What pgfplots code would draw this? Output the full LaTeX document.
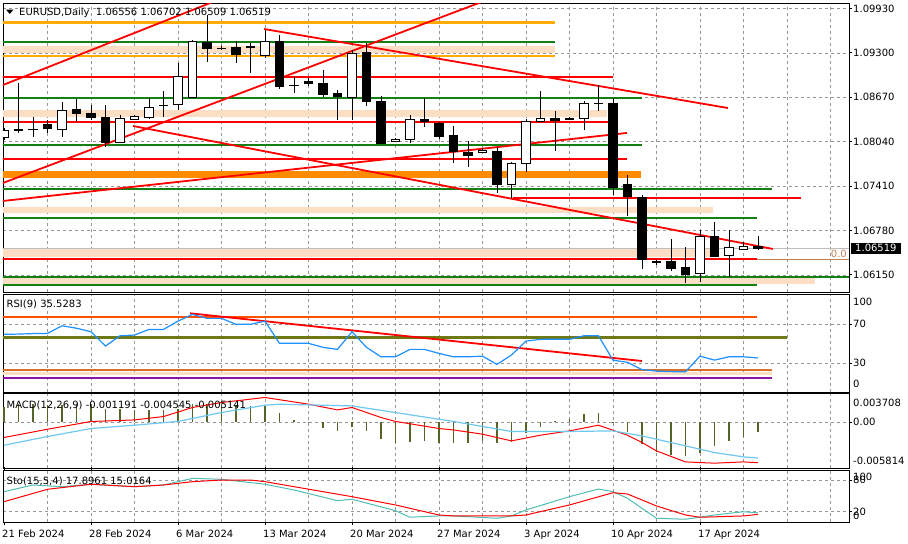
\documentclass[border=0pt]{standalone}
\usepackage{pgfplots}
\pgfplotsset{compat=1.18}
\usepackage{pgfplotstable}
\usepackage{fontspec}
\setmainfont{DejaVu Sans}

\definecolor{mtred}{RGB}{255,0,0}
\definecolor{mtgreen}{RGB}{20,128,20}
\definecolor{mtorange}{RGB}{255,170,0}
\definecolor{mtdarkorange}{RGB}{255,140,0}
\definecolor{mtpeach}{RGB}{252,222,196}
\definecolor{mtgrid}{RGB}{150,150,150}
\definecolor{mtprice}{RGB}{190,190,190}
\definecolor{mtbrown}{RGB}{190,130,90}
\definecolor{rsiblue}{RGB}{30,144,255}
\definecolor{rsiorange}{RGB}{255,80,0}
\definecolor{rsiolive}{RGB}{110,120,20}
\definecolor{rsichoc}{RGB}{215,110,40}
\definecolor{rsipurple}{RGB}{140,20,160}
\definecolor{macdhist}{RGB}{85,100,40}
\definecolor{macdcyan}{RGB}{110,200,240}
\definecolor{stocyan}{RGB}{80,190,180}

\newcommand{\mtfont}{\fontsize{10bp}{12bp}\selectfont}

% daily candles: bar index, open, high, low, close
\pgfplotstableread{
i o h l c
0 1.08107 1.08235 1.08064 1.08206
1 1.08220 1.08873 1.08164 1.08206
2 1.08220 1.08391 1.08107 1.08213
3 1.08291 1.08348 1.08164 1.08235
4 1.08220 1.08604 1.08107 1.08490
5 1.08504 1.08646 1.08320 1.08448
6 1.08448 1.08561 1.08348 1.08391
7 1.08391 1.08561 1.07965 1.08036
8 1.08036 1.08419 1.08022 1.08377
9 1.08362 1.08419 1.08348 1.08405
10 1.08391 1.08660 1.08362 1.08533
11 1.08561 1.08760 1.08391 1.08554
12 1.08575 1.09157 1.08490 1.08973
13 1.08675 1.09483 1.08660 1.09469
14 1.09455 1.09838 1.09171 1.09370
15 1.09370 1.09398 1.09341 1.09363
16 1.09384 1.09469 1.09157 1.09285
17 1.09391 1.09441 1.09015 1.09384
18 1.09271 1.09625 1.09228 1.09469
19 1.09469 1.09554 1.08788 1.08831
20 1.08845 1.08958 1.08731 1.08838
21 1.08902 1.08944 1.08831 1.08873
22 1.08873 1.09058 1.08675 1.08717
23 1.08731 1.08774 1.08348 1.08689
24 1.08675 1.09341 1.08348 1.09299
25 1.09313 1.09441 1.08547 1.08618
26 1.08618 1.08689 1.08008 1.08022
27 1.08050 1.08093 1.08036 1.08079
28 1.08079 1.08419 1.08022 1.08362
29 1.08362 1.08660 1.08249 1.08334
30 1.08306 1.08320 1.08079 1.08121
31 1.08135 1.08263 1.07738 1.07908
32 1.07894 1.08050 1.07681 1.07852
33 1.07894 1.07951 1.07880 1.07923
34 1.07908 1.07965 1.07312 1.07440
35 1.07440 1.07752 1.07241 1.07738
36 1.07738 1.08362 1.07610 1.08334
37 1.08334 1.08760 1.08320 1.08377
38 1.08377 1.08476 1.07908 1.08348
39 1.08377 1.08391 1.08348 1.08362
40 1.08377 1.08618 1.08206 1.08589
41 1.08589 1.08845 1.08476 1.08582
42 1.08589 1.08660 1.07284 1.07398
43 1.07440 1.07568 1.06986 1.07270
44 1.07256 1.07284 1.06234 1.06376
45 1.06347 1.06362 1.06291 1.06333
46 1.06347 1.06659 1.06206 1.06248
47 1.06262 1.06546 1.06035 1.06163
48 1.06177 1.06787 1.06049 1.06701
49 1.06701 1.06901 1.06404 1.06418
50 1.06433 1.06787 1.06120 1.06546
51 1.06518 1.06617 1.06511 1.06560
52 1.06556 1.06702 1.06509 1.06519
}\candles

\pgfplotstableread{
i v
0 59.7
1 60.0
2 60.5
3 60.7
4 68.5
5 66.0
6 62.4
7 47.7
8 58.3
9 59.0
10 64.8
11 64.8
12 73.3
13 80.2
14 76.1
15 76.1
16 70.0
17 70.0
18 73.3
19 50.5
20 50.5
21 50.5
22 46.4
23 44.3
24 62.4
25 46.4
26 36.7
27 36.7
28 44.3
29 44.3
30 40.2
31 36.7
32 36.7
33 37.4
34 28.9
35 38.5
36 52.8
37 54.6
38 54.6
39 54.6
40 58.3
41 58.3
42 33.3
43 31.0
44 23.6
45 22.0
46 21.5
47 21.3
48 37.4
49 33.3
50 36.7
51 36.7
52 35.5
}\rsi

\pgfplotstableread{
i v
0 0.00199
1 0.00228
2 0.00228
3 0.00216
4 0.00216
5 0.00216
6 0.00228
7 0.00174
8 0.00174
9 0.00157
10 0.00157
11 0.00157
12 0.00174
13 0.00228
14 0.00228
15 0.00228
16 0.00216
17 0.00207
18 0.00216
19 0.00114
20 0.00030
21 0.00002
22 -0.00068
23 -0.00110
24 -0.00055
25 -0.00110
26 -0.00207
27 -0.00267
28 -0.00250
29 -0.00237
30 -0.00267
31 -0.00258
32 -0.00258
33 -0.00237
34 -0.00267
35 -0.00250
36 -0.00131
37 -0.00055
38 0.00010
39 0.00038
40 0.00102
41 0.00123
42 -0.00005
43 -0.00123
44 -0.00279
45 -0.00377
46 -0.00410
47 -0.00427
48 -0.00385
49 -0.00300
50 -0.00237
51 -0.00182
52 -0.00119
}\macdhist

\pgfplotsset{
  mtpanel/.style={
    scale only axis, width=846bp, anchor=north west,
    xmin=-0.07, xmax=58.28,
    axis line style={black, line width=0.8bp},
    xtick={3,6,...,57}, xticklabels={},
    xtick style={draw=none},
    xmajorgrids, ymajorgrids,
    grid style={mtgrid, line width=0.6bp, dash pattern=on 3bp off 3bp},
    ytick pos=right, yticklabel pos=right,
    tick align=outside, major tick length=3bp,
    ytick style={black, line width=0.8bp},
    scaled y ticks=false,
    ticklabel style={font=\mtfont},
    yticklabel style={inner sep=0pt, anchor=west, xshift=1bp},
  },
  lvl/.style={line width=1.8bp, forget plot},
}

\begin{document}
\begin{tikzpicture}
\fill[white] (0,0) rectangle (908bp,-544bp);
\path[use as bounding box] (0,0) rectangle (908bp,-544bp);

% ---------------- price panel ----------------
\begin{axis}[mtpanel, at={(3bp,-3bp)}, height=289bp,
  ymin=1.05907, ymax=1.10008,
  ytick={1.0615,1.0678,1.0741,1.0804,1.0867,1.0930,1.0993},
  yticklabels={1.06150,1.06780,1.07410,1.08040,1.08670,1.09300,1.09930}]

% shaded zones
\addplot[fill=mtpeach, draw=none, forget plot] coordinates {(-1,1.09295) (38,1.09295) (38,1.09398) (-1,1.09398)} --cycle;
\addplot[fill=mtpeach, draw=none, forget plot] coordinates {(-1,1.08391) (41.6,1.08391) (41.6,1.08490) (-1,1.08490)} --cycle;
\addplot[fill=mtpeach, draw=none, forget plot] coordinates {(-1,1.07029) (48.9,1.07029) (48.9,1.07114) (-1,1.07114)} --cycle;
\addplot[fill=mtpeach, draw=none, forget plot] coordinates {(-1,1.06404) (49,1.06404) (49,1.06518) (-1,1.06518)} --cycle;
\addplot[fill=mtpeach, draw=none, forget plot] coordinates {(-1,1.06021) (55.9,1.06021) (55.9,1.06102) (-1,1.06102)} --cycle;
\addplot[fill=mtdarkorange, draw=none, forget plot] coordinates {(-1,1.07525) (43.9,1.07525) (43.9,1.07625) (-1,1.07625)} --cycle;

% horizontal levels
\addplot[lvl, mtorange, line width=2.2bp] coordinates {(-1,1.09730) (38,1.09730)};
\addplot[lvl, mtgreen] coordinates {(-1,1.09459) (38,1.09459)};
\addplot[lvl, mtorange, line width=2.2bp] coordinates {(-1,1.09256) (38,1.09256)};
\addplot[lvl, mtred] coordinates {(-1,1.08963) (42,1.08963)};
\addplot[lvl, mtgreen] coordinates {(-1,1.08665) (44,1.08665)};
\addplot[lvl, mtred] coordinates {(-1,1.08324) (42,1.08324)};
\addplot[lvl, mtgreen] coordinates {(-1,1.07994) (44,1.07994)};
\addplot[lvl, mtred] coordinates {(-1,1.07791) (43,1.07791)};
\addplot[lvl, mtgreen] coordinates {(-1,1.07365) (53,1.07365)};
\addplot[lvl, mtred] coordinates {(35.1,1.07241) (55,1.07241)};
\addplot[lvl, mtgreen] coordinates {(-1,1.06953) (51.9,1.06953)};
\addplot[lvl, mtprice, line width=1bp] coordinates {(-1,1.06519) (60,1.06519)};
\addplot[lvl, mtbrown, line width=0.8bp] coordinates {(-1,1.06372) (60,1.06372)};
\addplot[lvl, mtred] coordinates {(-1,1.06372) (51.9,1.06372)};
\addplot[lvl, mtgreen] coordinates {(-1,1.06116) (60,1.06116)};
\addplot[lvl, mtgreen] coordinates {(-1,1.06007) (51.9,1.06007)};

% trend lines
\addplot[lvl, mtred] coordinates {(-1,1.08769) (16,1.10153)};
\addplot[lvl, mtred] coordinates {(-1,1.07382) (34,1.10105)};
\addplot[lvl, mtred] coordinates {(-1,1.07178) (42.97,1.08164)};
\addplot[lvl, mtred] coordinates {(8.9,1.08263) (53.03,1.06518)};
\addplot[lvl, mtred] coordinates {(17.93,1.09639) (49.93,1.08518)};

% candles
\pgfplotsforeachungrouped \k in {0,...,52}{%
  \pgfplotstablegetelem{\k}{o}\of\candles\let\vo\pgfplotsretval
  \pgfplotstablegetelem{\k}{h}\of\candles\let\vh\pgfplotsretval
  \pgfplotstablegetelem{\k}{l}\of\candles\let\vl\pgfplotsretval
  \pgfplotstablegetelem{\k}{c}\of\candles\let\vc\pgfplotsretval
  \pgfmathsetmacro\xa{\k-0.29}%
  \pgfmathsetmacro\xb{\k+0.29}%
  \pgfmathtruncatemacro\isdown{\vc<\vo ? 1 : 0}%
  \ifnum\isdown=1 \def\bodyc{black}\else\def\bodyc{white}\fi
  \edef\doit{%
    \noexpand\addplot[black, line width=0.8bp, forget plot] coordinates {(\k,\vl) (\k,\vh)};
    \noexpand\addplot[draw=black, fill=\bodyc, line width=0.8bp, forget plot] coordinates {(\xa,\vo) (\xb,\vo) (\xb,\vc) (\xa,\vc)} --cycle;
  }%
  \doit
}
\end{axis}

% ---------------- RSI panel ----------------
\begin{axis}[mtpanel, at={(3bp,-294bp)}, height=98bp,
  ymin=0.6, ymax=101.1, ytick={30,70}, yticklabels={30,70}]
\addplot[fill=mtpeach, draw=none, forget plot] coordinates {(-1,18.0) (53,18.0) (53,21.4) (-1,21.4)} --cycle;
\addplot[lvl, rsiorange] coordinates {(-1,77.2) (51.9,77.2)};
\addplot[lvl, rsiolive, line width=2.4bp] coordinates {(-1,56.7) (54,56.7)};
\addplot[lvl, rsichoc] coordinates {(-1,23.4) (53,23.4)};
\addplot[lvl, rsipurple] coordinates {(-1,15.2) (53,15.2)};
\addplot[lvl, mtred] coordinates {(12.83,81.3) (44.0,32.4)};
\addplot[rsiblue, line width=1.2bp] table[x=i, y=v] {\rsi};
\end{axis}

% ---------------- MACD panel ----------------
\begin{axis}[mtpanel, at={(3bp,-393bp)}, height=75bp,
  ymin=-0.005814, ymax=0.003708, ytick={0}, yticklabels={0.00}]
\addplot[ycomb, macdhist, line width=1.6bp] table[x=i, y=v] {\macdhist};
\addplot[mtred, line width=1bp] coordinates {
(0,-0.00194) (3,-0.00089) (6,0.00009) (9,0.00029) (11,0.00072) (13,0.00187)
(15,0.00250) (18,0.00314) (21,0.00229) (23,0.00156) (24,0.00187) (26,0.00060)
(27,0.00010) (30,-0.00080) (31,-0.00098) (33,-0.00152) (35,-0.00237) (37,-0.00165)
(39,-0.00110) (41,-0.00038) (43,-0.00165) (44,-0.00258) (45,-0.00364) (47,-0.00504)
(49,-0.00520) (51,-0.00504) (52,-0.00514)};
\addplot[macdcyan, line width=1.2bp] coordinates {
(0,-0.00292) (3,-0.00182) (6,-0.00080) (9,-0.00038) (12,0.00010) (15,0.00123)
(18,0.00216) (19,0.00229) (24,0.00207) (30,0.00038) (31,0.00010) (35,-0.00118)
(39,-0.00118) (42,-0.00110) (44,-0.00174) (47,-0.00300) (49,-0.00385) (51,-0.00440)
(52,-0.004545)};
\end{axis}

% ---------------- Stochastic panel ----------------
\begin{axis}[mtpanel, at={(3bp,-470bp)}, height=52bp,
  ymin=0.5, ymax=99, ytick={20,80}, yticklabels={20,80},
  extra x ticks={0,6,...,48},
  extra x tick labels={21 Feb 2024,28 Feb 2024,6 Mar 2024,13 Mar 2024,20 Mar 2024,27 Mar 2024,3 Apr 2024,10 Apr 2024,17 Apr 2024},
  extra x tick style={grid=none, xtick style={draw=black, line width=0.8bp},
    xticklabel style={anchor=north west, inner sep=0pt, yshift=-4.5bp, xshift=-2bp}}]
\addplot[stocyan, line width=1bp] coordinates {
(0,58) (2,70.6) (4,67.4) (6,72) (9,67.4) (11,70.6) (13,83.3) (15,81.4) (18,72)
(20,61.2) (23,40.9) (24,43.6) (27,22) (28,9.5) (30,12) (31,12) (34,7.6) (35,12)
(36,23.3) (39,48.5) (41,63) (42,58) (43,45.5) (45,7.6) (47,5.7) (49,13.8) (51,20) (52,17.9)};
\addplot[mtred, line width=1bp] coordinates {
(0,39) (3,62.5) (6,72) (9,67.4) (11,70.6) (13,76.9) (15,80) (17,80) (18,76.9)
(24,48.5) (27,32.8) (30,13.8) (31,12) (35,12) (36,13.8) (39,32.8) (42,56) (43,53.6)
(45,30.9) (47,13.8) (48,9.5) (51,12) (52,15.0)};
\end{axis}

% ---------------- texts ----------------
\fill[black] (6bp,-9.5bp) -- (13.5bp,-9.5bp) -- (9.75bp,-14bp) -- cycle;
\node[font=\mtfont, anchor=base west, inner sep=0pt] at (19bp,-15.7bp) {EURUSD,Daily\ \ 1.06556 1.06702 1.06509 1.06519};
\node[font=\mtfont, anchor=base west, inner sep=0pt] at (6.5bp,-307.5bp) {RSI(9) 35.5283};
\node[font=\mtfont, anchor=base west, inner sep=0pt] at (6.5bp,-408bp) {MACD(12,26,9) -0.001191 -0.004545 -0.005141};
\node[font=\mtfont, anchor=base west, inner sep=0pt] at (6.5bp,-484bp) {Sto(15,5,4) 17.8961 15.0164};

\node[font=\mtfont, anchor=west, inner sep=0pt] at (853bp,-301.7bp) {100};
\node[font=\mtfont, anchor=west, inner sep=0pt] at (853bp,-384.3bp) {0};
\node[font=\mtfont, anchor=west, inner sep=0pt] at (853bp,-402.7bp) {0.003708};
\node[font=\mtfont, anchor=west, inner sep=0pt] at (853bp,-460.7bp) {-0.005814};
\node[font=\mtfont, anchor=west, inner sep=0pt] at (853bp,-477.3bp) {100};
\node[font=\mtfont, anchor=west, inner sep=0pt] at (853bp,-516bp) {0};

\node[font=\mtfont, text=mtbrown, anchor=east, inner sep=0pt] at (847bp,-253.7bp) {0.0};
\node[font=\mtfont, fill=black, text=white, anchor=west, inner xsep=4bp, inner ysep=1.5bp] at (851bp,-248.3bp) {1.06519};
\end{tikzpicture}
\end{document}
